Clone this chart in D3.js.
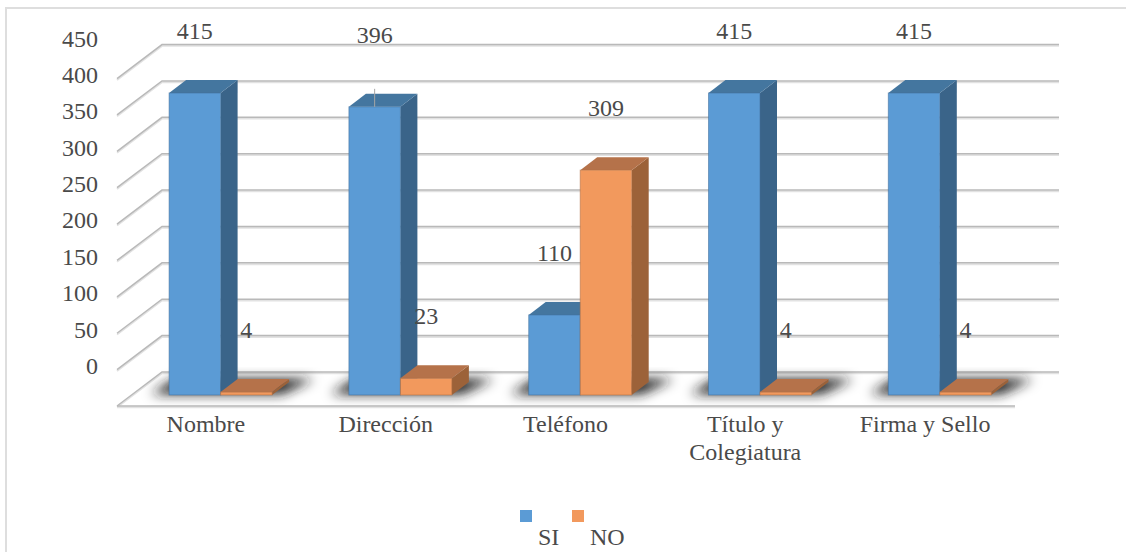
<!DOCTYPE html>
<html lang="es">
<head>
<meta charset="utf-8">
<script src="https://cdn.jsdelivr.net/npm/d3@7"></script>
<style>
  html, body { margin: 0; padding: 0; background: #fff; overflow: hidden; }
  svg { display: block; }
  text { font-family: "Liberation Serif", "Times New Roman", serif; fill: #4a4a4a; font-size: 24px; }
</style>
</head>
<body>
<div id="chart"></div>
<script>
// Data
const categories = [["Nombre"], ["Dirección"], ["Teléfono"], ["Título y", "Colegiatura"], ["Firma y Sello"]];
const seriesNames = ["SI", "NO"];
const siValues = [415, 396, 110, 415, 415];
const noValues = [4, 23, 309, 4, 4];
const yTicks = [0, 50, 100, 150, 200, 250, 300, 350, 400, 450];
const seriesColors = [
  { front: "#5b9bd5", side: "#3a6489", top: "#44769f" },
  { front: "#f2995d", side: "#9c6239", top: "#b5724a" }
];

const width = 1126, height = 552;
const depth = { x: 45, y: 34 };      // floor depth of the 3D box
const barDepth = { x: 17, y: 13 };   // depth of each column
const columnShift = 14.7;            // columns stand part way back on the floor

const svg = d3.select("#chart").append("svg").attr("width", width).attr("height", height);
const defs = svg.append("defs");
defs.append("filter").attr("id", "floorShadow")
  .attr("x", "-30%").attr("y", "-80%").attr("width", "160%").attr("height", "260%")
  .append("feGaussianBlur").attr("stdDeviation", 6);

// Frame around the chart area: only the top and left edges fall inside the page
svg.append("path").attr("d", d3.line()([[6, height], [6, 8], [width, 8]]))
  .attr("fill", "none").attr("stroke", "#dedede").attr("stroke-width", 2);

// Scales: front plane of the box
const y = d3.scaleLinear().domain([0, 450]).range([395, 395 - 450 * 0.7277]);
const x = d3.scaleBand().domain(d3.range(categories.length)).range([116, 1015]);
const barWidth = 51.5;

// Back wall and left wall gridlines, with a soft lighter band beneath each one
const backY = v => y(v) - 23;
const backLeft = 162, backRight = 1059;
const grid = svg.append("g");
yTicks.forEach(v => {
  const yy = backY(v);
  const front = [backLeft - depth.x, yy + depth.y];
  grid.append("path")
    .attr("d", d3.line()([front, [backLeft, yy], [backRight, yy]]))
    .attr("transform", "translate(0,1.4)")
    .attr("fill", "none").attr("stroke", "#e2e2e2").attr("stroke-width", 1.8);
  grid.append("path")
    .attr("d", d3.line()([front, [backLeft, yy], [backRight, yy]]))
    .attr("fill", "none").attr("stroke", "#b9b9b9").attr("stroke-width", 1.5);
});
// Front edge of the floor
const floorY = backY(0) + depth.y;
grid.append("line").attr("x1", backLeft - depth.x).attr("x2", 1015).attr("y1", floorY + 1.4).attr("y2", floorY + 1.4)
  .attr("stroke", "#e2e2e2").attr("stroke-width", 1.8);
grid.append("line").attr("x1", backLeft - depth.x).attr("x2", 1015).attr("y1", floorY).attr("y2", floorY)
  .attr("stroke", "#b9b9b9").attr("stroke-width", 1.5);

// Y axis labels
const axisG = svg.append("g");
yTicks.forEach(v => {
  axisG.append("text").attr("x", 98).attr("y", backY(v) + 2)
    .attr("text-anchor", "end").text(v);
});

// Columns, one pair per category, left to right
const columns = categories.map((c, i) => {
  const x0 = x(i) + x.bandwidth() / 2 + columnShift - barWidth;
  return [
    { i, s: 0, v: siValues[i], x: x0 },
    { i, s: 1, v: noValues[i], x: x0 + barWidth }
  ];
});

// Blurred floor shadows under each pair
const shadows = svg.append("g").attr("filter", "url(#floorShadow)");
columns.forEach(pair => {
  const l = pair[0].x, r = pair[1].x + barWidth, b = y(0);
  shadows.append("polygon")
    .attr("points", [[l - 18, b - 1], [r + 10, b - 1], [r + 42, b - 16], [l + 6, b - 16]].join(" "))
    .attr("fill", "#1f1f1f");
});

const bars = svg.append("g");
columns.flat().forEach(d => {
  const c = seriesColors[d.s];
  const top = y(d.v), base = y(0), x1 = d.x, x2 = d.x + barWidth;
  const dx = barDepth.x, dy = barDepth.y;
  const g = bars.append("g");
  g.append("polygon").attr("points", [[x2, top], [x2 + dx, top - dy], [x2 + dx, base - dy], [x2, base]].join(" "))
    .attr("fill", c.side);
  g.append("polygon").attr("points", [[x1, top], [x1 + dx, top - dy], [x2 + dx, top - dy], [x2, top]].join(" "))
    .attr("fill", c.top);
  g.append("rect").attr("x", x1).attr("y", top).attr("width", barWidth).attr("height", base - top)
    .attr("fill", c.front).attr("stroke", d3.color(c.front).darker(0.9)).attr("stroke-opacity", 0.55).attr("stroke-width", 1);
});

// Value labels sit a fixed distance above each column; 396 was nudged up and keeps a leader line
const labelLift = 54;
const labels = svg.append("g");
columns.flat().forEach(d => {
  const cx = d.x + barWidth / 2;
  const nudge = d.v === 396 ? 10 : 0;
  if (nudge) {
    svg.append("line").attr("x1", cx).attr("x2", cx).attr("y1", y(d.v) - 18).attr("y2", y(d.v))
      .attr("stroke", "#a6a6a6").attr("stroke-width", 1);
  }
  labels.append("text").attr("x", cx).attr("y", y(d.v) - labelLift - nudge)
    .attr("text-anchor", "middle").text(d.v);
});

// Category labels
const catG = svg.append("g");
categories.forEach((lines, i) => {
  const cx = x(i) + x.bandwidth() / 2;
  lines.forEach((t, k) => {
    catG.append("text").attr("x", cx).attr("y", 432 + k * 28).attr("text-anchor", "middle").text(t);
  });
});

// Legend
const legend = svg.append("g");
seriesNames.forEach((name, i) => {
  const lx = 520 + i * 52;
  legend.append("rect").attr("x", lx).attr("y", 510).attr("width", 12).attr("height", 12).attr("fill", seriesColors[i].front);
  legend.append("text").attr("x", lx + 18).attr("y", 545).text(name);
});
</script>
</body>
</html>
